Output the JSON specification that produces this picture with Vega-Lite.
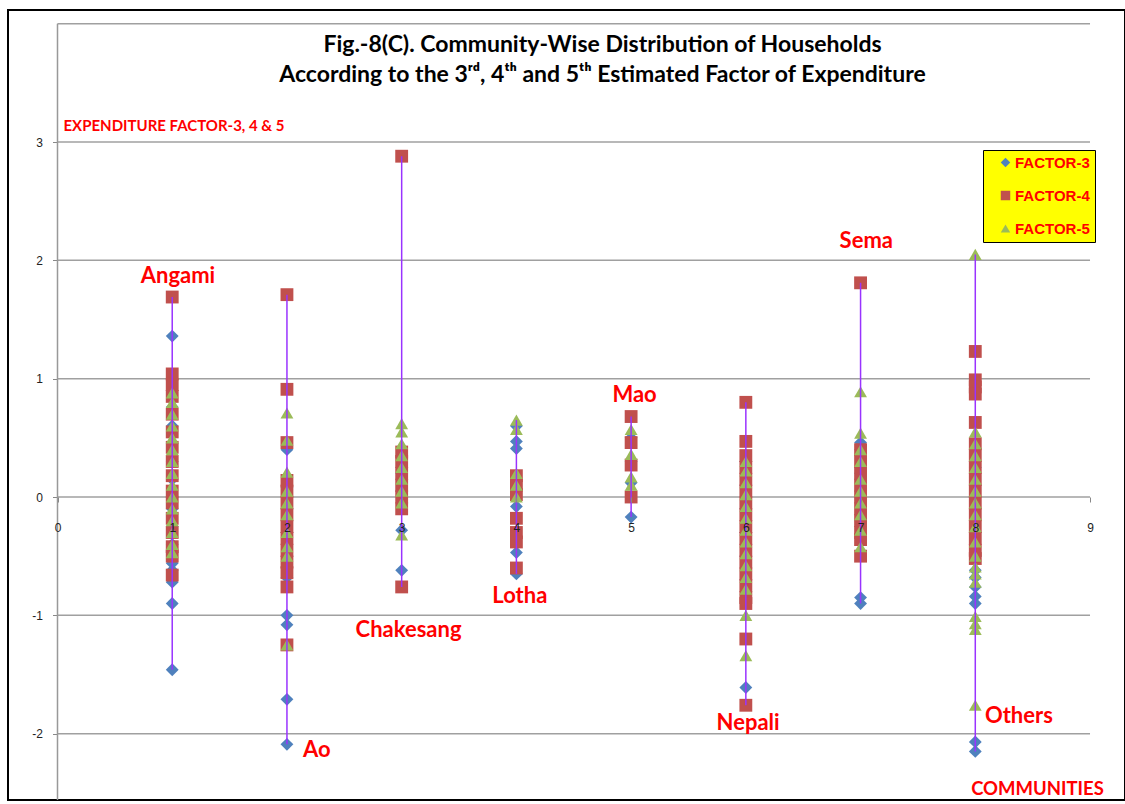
{
  "$schema": "https://vega.github.io/schema/vega-lite/v6.json",
  "width": 1117,
  "height": 790,
  "autosize": "none",
  "padding": {"left": 8, "top": 10, "right": 0, "bottom": 4},
  "background": "white",
  "view": {"stroke": "black", "strokeWidth": 2},
  "config": {"font": "Lato"},
  "title": {
    "text": ["Fig.-8(C). Community-Wise Distribution of Households", "According to the 3ʳᵈ, 4ᵗʰ and 5ᵗʰ Estimated Factor of Expenditure"],
    "anchor": "middle", "frame": "group", "orient": "top", "baseline": "top",
    "offset": 0, "dy": 77, "dx": 36, "fontSize": 23, "fontWeight": "bold",
    "font": "Lato", "color": "black", "lineHeight": 30
  },
  "datasets": {
    "pts": [
      {"c": 1, "s": "FACTOR-3", "v": [1.36, 0.76, 0.6, 0.45, 0.3, 0.15, 0.0, -0.1, -0.25, -0.4, -0.56, -0.62, -0.72, -0.9, -1.46]},
      {"c": 2, "s": "FACTOR-3", "v": [0.4, 0.08, -0.1, -0.3, -0.5, -0.68, -1.0, -1.08, -1.71, -2.09]},
      {"c": 3, "s": "FACTOR-3", "v": [0.2, 0.05, -0.28, -0.62]},
      {"c": 4, "s": "FACTOR-3", "v": [0.6, 0.47, 0.41, -0.08, -0.47, -0.65]},
      {"c": 5, "s": "FACTOR-3", "v": [0.5, 0.3, 0.12, -0.17]},
      {"c": 6, "s": "FACTOR-3", "v": [0.3, 0.1, -0.1, -0.3, -0.5, -0.7, -1.61]},
      {"c": 7, "s": "FACTOR-3", "v": [0.46, 0.4, 0.2, 0.0, -0.2, -0.85, -0.9]},
      {"c": 8, "s": "FACTOR-3", "v": [0.41, 0.25, 0.1, -0.1, -0.3, -0.5, -0.62, -0.68, -0.76, -0.84, -0.9, -2.07, -2.15]},
      {"c": 1, "s": "FACTOR-4", "v": [1.69, 1.04, 0.95, 0.85, 0.7, 0.55, 0.42, 0.3, 0.18, 0.05, -0.05, -0.18, -0.3, -0.42, -0.5, -0.66]},
      {"c": 2, "s": "FACTOR-4", "v": [1.71, 0.91, 0.46, 0.14, 0.05, -0.05, -0.15, -0.25, -0.35, -0.45, -0.55, -0.64, -0.76, -1.25]},
      {"c": 3, "s": "FACTOR-4", "v": [2.88, 0.38, 0.3, 0.2, 0.1, 0.0, -0.1, -0.76]},
      {"c": 4, "s": "FACTOR-4", "v": [0.18, 0.1, 0.02, -0.18, -0.3, -0.38, -0.6]},
      {"c": 5, "s": "FACTOR-4", "v": [0.68, 0.46, 0.27, 0.0]},
      {"c": 6, "s": "FACTOR-4", "v": [0.8, 0.47, 0.35, 0.25, 0.15, 0.05, -0.05, -0.15, -0.25, -0.35, -0.45, -0.55, -0.65, -0.75, -0.85, -0.9, -1.2, -1.76]},
      {"c": 7, "s": "FACTOR-4", "v": [1.81, 0.4, 0.3, 0.2, 0.1, 0.0, -0.1, -0.2, -0.3, -0.36, -0.5]},
      {"c": 8, "s": "FACTOR-4", "v": [1.23, 0.99, 0.93, 0.87, 0.63, 0.45, 0.35, 0.25, 0.15, 0.05, -0.05, -0.15, -0.25, -0.35, -0.45, -0.52]},
      {"c": 1, "s": "FACTOR-5", "v": [0.88, 0.8, 0.7, 0.6, 0.5, 0.4, 0.3, 0.2, 0.1, 0.0, -0.1, -0.2, -0.3, -0.4, -0.47]},
      {"c": 2, "s": "FACTOR-5", "v": [0.71, 0.48, 0.21, 0.05, -0.05, -0.15, -0.3, -0.42, -0.5, -1.25]},
      {"c": 3, "s": "FACTOR-5", "v": [0.62, 0.55, 0.45, 0.35, 0.25, 0.15, 0.05, -0.05, -0.32]},
      {"c": 4, "s": "FACTOR-5", "v": [0.65, 0.57, 0.2, 0.1, 0.0]},
      {"c": 5, "s": "FACTOR-5", "v": [0.57, 0.36, 0.17, 0.1]},
      {"c": 6, "s": "FACTOR-5", "v": [0.3, 0.22, 0.12, 0.02, -0.08, -0.18, -0.28, -0.38, -0.48, -0.58, -0.68, -0.78, -1.0, -1.34]},
      {"c": 7, "s": "FACTOR-5", "v": [0.89, 0.54, 0.4, 0.3, 0.15, 0.05, -0.05, -0.15, -0.28, -0.42]},
      {"c": 8, "s": "FACTOR-5", "v": [2.05, 0.55, 0.45, 0.35, 0.25, 0.15, 0.05, -0.05, -0.15, -0.25, -0.38, -0.5, -0.59, -0.65, -0.72, -1.01, -1.07, -1.12, -1.76]}
    ],
    "grid": [{"g": -2}, {"g": -1}, {"g": 0}, {"g": 1}, {"g": 2}, {"g": 3}, {"g": 4}],
    "labels": [
      {"name": "Angami", "x": 1.05, "y": 1.87},
      {"name": "Ao", "x": 2.26, "y": -2.14},
      {"name": "Chakesang", "x": 3.06, "y": -1.12},
      {"name": "Lotha", "x": 4.03, "y": -0.84},
      {"name": "Mao", "x": 5.03, "y": 0.86},
      {"name": "Nepali", "x": 6.02, "y": -1.91},
      {"name": "Sema", "x": 7.05, "y": 2.16},
      {"name": "Others", "x": 8.38, "y": -1.85}
    ]
  },
  "data": {"name": "pts"},
  "layer": [
    {
      "data": {"name": "grid"},
      "mark": {"type": "rule", "color": "#a0a0a0", "strokeWidth": 1.5},
      "encoding": {
        "x": {
          "datum": 0, "type": "quantitative",
          "scale": {"domain": [-0.4315, 9.305], "nice": false, "zero": false},
          "axis": {
            "title": "COMMUNITIES", "orient": "bottom", "offset": -303, "zindex": 1,
            "values": [0, 1, 2, 3, 4, 5, 6, 7, 8, 9], "domain": false, "grid": false,
            "tickSize": 5, "tickColor": "#888888", "labelPadding": 20,
            "labelExpr": "'' + datum.value", "labelOverlap": false, "labelBound": false,
            "labelFontSize": 12, "labelColor": "#222222", "labelFont": "Liberation Sans",
            "titleColor": "#FF0000", "titleFontSize": 18.5, "titleFontWeight": "bold", "titleFont": "Lato",
            "titleX": 1029, "titleY": 291, "titleAlign": "center", "titleBaseline": "middle"
          }
        },
        "x2": {"datum": 9},
        "y": {
          "field": "g", "type": "quantitative",
          "scale": {"domain": [-2.5606, 4.1156], "nice": false, "zero": false},
          "axis": {
            "title": "EXPENDITURE FACTOR-3, 4 & 5", "orient": "left", "offset": -49.5,
            "values": [-2, -1, 0, 1, 2, 3], "domain": false, "grid": false,
            "tickSize": 5, "tickColor": "#888888", "labelPadding": 10,
            "labelExpr": "'' + datum.value", "labelOverlap": false,
            "labelFontSize": 12, "labelColor": "#222222", "labelFont": "Liberation Sans",
            "titleAngle": 0, "titleAlign": "left", "titleBaseline": "middle",
            "titleX": 5.5, "titleY": 115,
            "titleColor": "#FF0000", "titleFontSize": 15, "titleFontWeight": "bold", "titleFont": "Lato"
          }
        }
      }
    },
    {
      "data": {"values": [{}]},
      "mark": {"type": "rule", "color": "#999999", "strokeWidth": 1.5},
      "encoding": {
        "x": {"datum": 0, "type": "quantitative"},
        "y": {"datum": -2.5606, "type": "quantitative"},
        "y2": {"datum": 4}
      }
    },
    {
      "transform": [{"flatten": ["v"]}],
      "mark": {"type": "point", "filled": true, "opacity": 1, "size": 165},
      "encoding": {
        "x": {"field": "c", "type": "quantitative"},
        "y": {"field": "v", "type": "quantitative"},
        "color": {
          "field": "s", "type": "nominal",
          "scale": {"domain": ["FACTOR-3", "FACTOR-4", "FACTOR-5"], "range": ["#4F81BD", "#C0504D", "#9BBB59"]},
          "legend": {
            "orient": "none", "legendX": 975, "legendY": 140, "title": null,
            "fillColor": "#FFFF00", "strokeColor": "#000000", "padding": 5,
            "labelColor": "#FF0000", "labelFontWeight": "bold", "labelFontSize": 15, "labelFont": "Liberation Sans",
            "rowPadding": 17, "symbolSize": 90, "symbolStrokeWidth": 0, "symbolOffset": 10, "labelOffset": 2
          }
        },
        "shape": {
          "field": "s", "type": "nominal",
          "scale": {"domain": ["FACTOR-3", "FACTOR-4", "FACTOR-5"], "range": ["diamond", "square", "triangle-up"]},
          "legend": {
            "orient": "none", "legendX": 975, "legendY": 140, "title": null,
            "fillColor": "#FFFF00", "strokeColor": "#000000", "padding": 5,
            "labelColor": "#FF0000", "labelFontWeight": "bold", "labelFontSize": 15, "labelFont": "Liberation Sans",
            "rowPadding": 17, "symbolSize": 90, "symbolStrokeWidth": 0, "symbolOffset": 10, "labelOffset": 2
          }
        }
      }
    },
    {
      "transform": [
        {"flatten": ["v"]},
        {"aggregate": [{"op": "min", "field": "v", "as": "lo"}, {"op": "max", "field": "v", "as": "hi"}], "groupby": ["c"]}
      ],
      "mark": {"type": "rule", "color": "#9933FF", "strokeWidth": 1.5},
      "encoding": {
        "x": {"field": "c", "type": "quantitative"},
        "y": {"field": "lo", "type": "quantitative"},
        "y2": {"field": "hi"}
      }
    },
    {
      "data": {"name": "labels"},
      "mark": {"type": "text", "color": "#FF0000", "fontSize": 22, "fontWeight": "bold", "font": "Lato", "align": "center", "baseline": "middle"},
      "encoding": {
        "x": {"field": "x", "type": "quantitative"},
        "y": {"field": "y", "type": "quantitative"},
        "text": {"field": "name"}
      }
    }
  ]
}
